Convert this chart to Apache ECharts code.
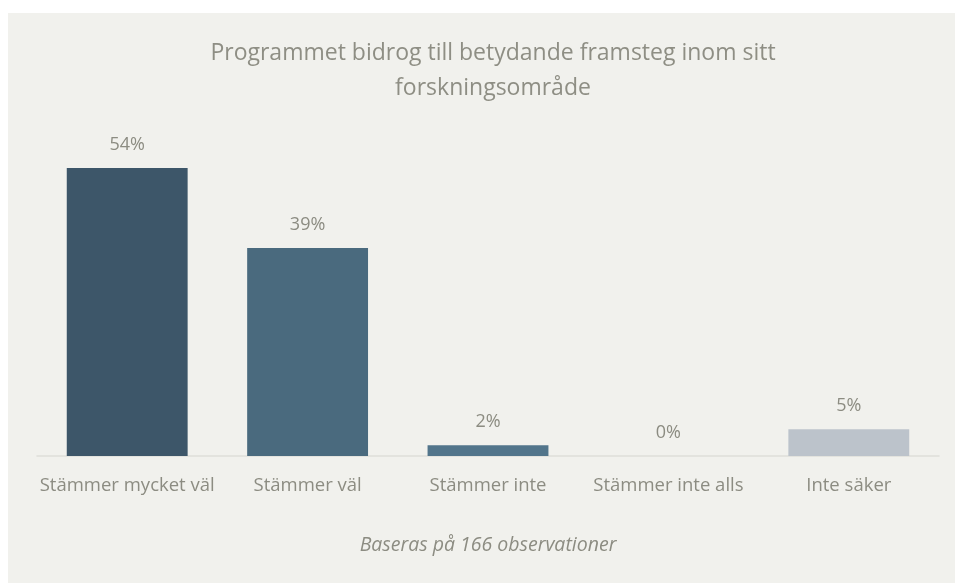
<!DOCTYPE html>
<html><head><meta charset="utf-8">
<script src="https://cdn.jsdelivr.net/npm/echarts@6/dist/echarts.min.js"></script>
<style>html,body{margin:0;padding:0;background:#fff;}#c{width:955px;height:583px;}</style>
</head><body><div id="c"></div>
<script>
var categories = ['Stämmer mycket väl', 'Stämmer väl', 'Stämmer inte', 'Stämmer inte alls', 'Inte säker'];
var values = [54, 39, 2, 0, 5];
var barColors = ['#3d5669', '#4a6a7e', '#52758b', '#6b8597', '#bcc3cb'];
var titleText = 'Programmet bidrog till betydande framsteg inom sitt\nforskningsområde';
var footnote = 'Baseras på 166 observationer';

var chart = echarts.init(document.getElementById('c'), null, {renderer: 'canvas'});
var font = '"Open Sans", "Noto Sans", sans-serif';
chart.setOption({
  backgroundColor: '#ffffff',
  animation: false,
  graphic: [
    {type: 'rect', z: -10, shape: {x: 8, y: 13, width: 947, height: 570}, style: {fill: '#f1f1ed'}},
    {type: 'text', x: 488, y: 545, style: {text: footnote, fill: '#8c8c82', font: 'italic 19.5px ' + font, textAlign: 'center', textVerticalAlign: 'middle'}}
  ],
  title: {
    text: titleText, left: 488, textAlign: 'center', top: 31,
    textStyle: {color: '#8e8e84', fontSize: 23, fontWeight: 'normal', fontFamily: font, lineHeight: 35}
  },
  grid: {left: 37, right: 16, top: 136, bottom: 127, containLabel: false},
  xAxis: {
    type: 'category', data: categories,
    axisLine: {show: true, lineStyle: {color: '#deded9', width: 1.5}},
    axisTick: {show: false},
    axisLabel: {color: '#8c8c82', fontSize: 18.5, fontFamily: font, margin: 20, interval: 0}
  },
  yAxis: {type: 'value', min: 0, max: 60, show: false, splitLine: {show: false}},
  series: [{
    type: 'bar', barWidth: '67%',
    data: values.map(function (v, i) { return {value: v, itemStyle: {color: barColors[i]}}; }),
    label: {show: true, position: 'top', distance: 14, formatter: '{c}%', color: '#8c8c82', fontSize: 18, fontFamily: font}
  }]
});
</script></body></html>
